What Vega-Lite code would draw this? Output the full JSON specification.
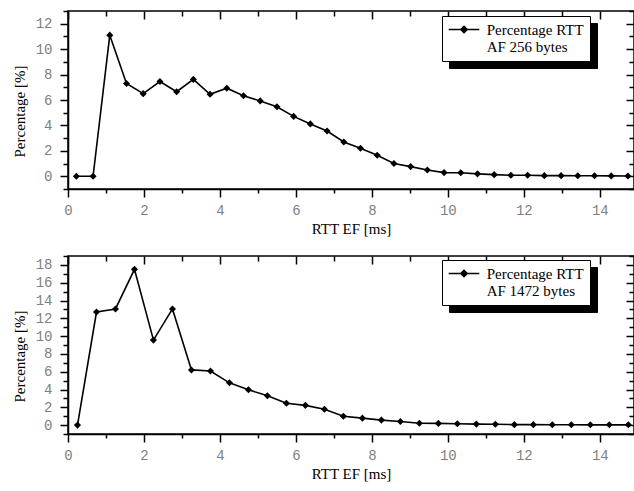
{
  "$schema": "https://vega.github.io/schema/vega-lite/v6.json",
  "padding": {"left": 11, "top": 3, "right": 0, "bottom": 0},
  "spacing": 11,
  "background": "white",
  "resolve": {"scale": {"color": "independent", "shape": "independent"}, "legend": {"color": "independent", "shape": "independent"}},
  "config": {
    "view": {"stroke": "black", "strokeWidth": 1.5},
    "axis": {
      "domainColor": "black", "domainWidth": 1.5, "tickColor": "black", "tickWidth": 1.5,
      "labelFont": "Liberation Mono", "labelFontSize": 14, "labelColor": "#808080",
      "titleFont": "Liberation Serif", "titleFontSize": 15, "titleFontWeight": "normal", "titleColor": "black",
      "grid": false, "labelFlush": false, "labelOverlap": false
    }
  },
  "vconcat": [
    {
      "width": 566, "height": 178,
      "data": {"values": [
        {"x": 0.22, "y": 0}, {"x": 0.66, "y": 0}, {"x": 1.10, "y": 11.1}, {"x": 1.54, "y": 7.3},
        {"x": 1.98, "y": 6.5}, {"x": 2.42, "y": 7.45}, {"x": 2.86, "y": 6.65}, {"x": 3.30, "y": 7.62},
        {"x": 3.74, "y": 6.45}, {"x": 4.18, "y": 6.93}, {"x": 4.62, "y": 6.33}, {"x": 5.06, "y": 5.93},
        {"x": 5.50, "y": 5.47}, {"x": 5.94, "y": 4.71}, {"x": 6.38, "y": 4.12}, {"x": 6.82, "y": 3.56},
        {"x": 7.26, "y": 2.70}, {"x": 7.70, "y": 2.20}, {"x": 8.14, "y": 1.65}, {"x": 8.58, "y": 1.0},
        {"x": 9.02, "y": 0.76}, {"x": 9.46, "y": 0.5}, {"x": 9.90, "y": 0.29}, {"x": 10.34, "y": 0.28},
        {"x": 10.78, "y": 0.19}, {"x": 11.22, "y": 0.13}, {"x": 11.66, "y": 0.08}, {"x": 12.10, "y": 0.08},
        {"x": 12.54, "y": 0.05}, {"x": 12.98, "y": 0.05}, {"x": 13.42, "y": 0.04}, {"x": 13.86, "y": 0.04},
        {"x": 14.30, "y": 0.03}, {"x": 14.74, "y": 0.02}
      ]},
      "layer": [
        {
          "mark": {"type": "line", "strokeWidth": 1.6, "clip": false},
          "encoding": {
            "x": {"field": "x", "type": "quantitative",
              "scale": {"domain": [0, 14.9], "nice": false, "zero": false},
              "axis": {"orient": "bottom", "values": [0,1,2,3,4,5,6,7,8,9,10,11,12,13,14],
                "title": "RTT EF [ms]", "labelExpr": "datum.value % 2 ? '' : datum.label",
                "tickSize": {"condition": {"test": "datum.value % 2 === 0", "value": 8}, "value": 4},
                "labelPadding": 6, "titlePadding": 4}},
            "y": {"field": "y", "type": "quantitative",
              "scale": {"domain": [-1, 13], "nice": false, "zero": false},
              "axis": {"orient": "left", "values": [-1,0,1,2,3,4,5,6,7,8,9,10,11,12,13],
                "title": "Percentage [%]", "labelExpr": "(datum.value % 2 !== 0) ? '' : datum.label",
                "tickSize": {"condition": {"test": "datum.value % 2 === 0", "value": 8}, "value": 5},
                "labelPadding": 8, "titlePadding": 8, "titleY": 100}},
            "color": {"datum": "Percentage RTT", "type": "nominal", "scale": {"range": ["black"]},
              "legend": {"orient": "none", "legendX": 374, "legendY": 5, "title": null,
                "fillColor": "white", "strokeColor": "black", "padding": 6,
                "symbolType": "M-1.05,0L3.66,0M1.31,-0.5L1.81,0L1.31,0.5L0.81,0Z",
                "symbolSize": 169, "symbolStrokeWidth": 1.5, "symbolStrokeColor": "black", "symbolFillColor": "black",
                "labelFont": "Liberation Serif", "labelFontSize": 15, "labelColor": "black",
                "labelLineHeight": 18.5, "labelOffset": 23.7, "labelLimit": 300,
                "labelExpr": "['Percentage RTT   ', 'AF 256 bytes']", "zindex": 2,
                "encode": {"symbols": {"update": {"fill": {"value": "black"}, "stroke": {"value": "black"}}}}}}
          }
        },
        {
          "mark": {"type": "point", "filled": true, "color": "black", "size": 50, "opacity": 1, "clip": false},
          "encoding": {
            "x": {"field": "x", "type": "quantitative",
              "scale": {"domain": [0, 14.9], "nice": false, "zero": false},
              "axis": {"orient": "top", "values": [0,1,2,3,4,5,6,7,8,9,10,11,12,13,14],
                "title": null, "labels": false, "domain": false,
                "tickSize": {"condition": {"test": "datum.value % 2 === 0", "value": -8}, "value": -5}}},
            "y": {"field": "y", "type": "quantitative",
              "scale": {"domain": [-1, 13], "nice": false, "zero": false},
              "axis": {"orient": "right", "values": [-1,0,1,2,3,4,5,6,7,8,9,10,11,12,13],
                "title": null, "labels": false, "domain": false,
                "tickSize": {"condition": {"test": "datum.value % 2 === 0", "value": -8}, "value": -5}}},
            "shape": {"datum": "s", "type": "nominal", "scale": {"range": ["diamond"]},
              "legend": {"orient": "none", "legendX": 381, "legendY": 12, "title": null,
                "fillColor": "black", "strokeColor": "black", "padding": 6,
                "symbolSize": 169, "symbolStrokeWidth": 1.5, "symbolStrokeColor": "black", "symbolFillColor": "black",
                "labelFont": "Liberation Serif", "labelFontSize": 15, "labelColor": "black",
                "labelLineHeight": 18.5, "labelOffset": 23.7, "labelLimit": 300,
                "labelExpr": "['Percentage RTT   ', 'AF 256 bytes']", "zindex": 1}}
          }
        }
      ],
      "resolve": {"axis": {"x": "independent", "y": "independent"}}
    },
    {
      "width": 566, "height": 178,
      "data": {"values": [
        {"x": 0.25, "y": 0}, {"x": 0.75, "y": 12.7}, {"x": 1.25, "y": 13.05}, {"x": 1.75, "y": 17.5},
        {"x": 2.25, "y": 9.55}, {"x": 2.75, "y": 13.05}, {"x": 3.25, "y": 6.2}, {"x": 3.75, "y": 6.08},
        {"x": 4.25, "y": 4.75}, {"x": 4.75, "y": 3.97}, {"x": 5.25, "y": 3.3}, {"x": 5.75, "y": 2.45},
        {"x": 6.25, "y": 2.22}, {"x": 6.75, "y": 1.79}, {"x": 7.25, "y": 1.0}, {"x": 7.75, "y": 0.78},
        {"x": 8.25, "y": 0.56}, {"x": 8.75, "y": 0.41}, {"x": 9.25, "y": 0.2}, {"x": 9.75, "y": 0.19},
        {"x": 10.25, "y": 0.15}, {"x": 10.75, "y": 0.11}, {"x": 11.25, "y": 0.1}, {"x": 11.75, "y": 0.05},
        {"x": 12.25, "y": 0.05}, {"x": 12.75, "y": 0.04}, {"x": 13.25, "y": 0.04}, {"x": 13.75, "y": 0.03},
        {"x": 14.25, "y": 0.03}, {"x": 14.75, "y": 0.03}
      ]},
      "layer": [
        {
          "mark": {"type": "line", "strokeWidth": 1.6, "clip": false},
          "encoding": {
            "x": {"field": "x", "type": "quantitative",
              "scale": {"domain": [0, 14.9], "nice": false, "zero": false},
              "axis": {"orient": "bottom", "values": [0,1,2,3,4,5,6,7,8,9,10,11,12,13,14],
                "title": "RTT EF [ms]", "labelExpr": "datum.value % 2 ? '' : datum.label",
                "tickSize": {"condition": {"test": "datum.value % 2 === 0", "value": 8}, "value": 4},
                "labelPadding": 6, "titlePadding": 4}},
            "y": {"field": "y", "type": "quantitative",
              "scale": {"domain": [-1, 19], "nice": false, "zero": false},
              "axis": {"orient": "left", "values": [-1,0,1,2,3,4,5,6,7,8,9,10,11,12,13,14,15,16,17,18,19],
                "title": "Percentage [%]", "labelExpr": "(datum.value % 2 !== 0) ? '' : datum.label",
                "tickSize": {"condition": {"test": "datum.value % 2 === 0", "value": 8}, "value": 5},
                "labelPadding": 8, "titlePadding": 8, "titleY": 100}},
            "color": {"datum": "Percentage RTT", "type": "nominal", "scale": {"range": ["black"]},
              "legend": {"orient": "none", "legendX": 374, "legendY": 4, "title": null,
                "fillColor": "white", "strokeColor": "black", "padding": 6,
                "symbolType": "M-1.05,0L3.66,0M1.31,-0.5L1.81,0L1.31,0.5L0.81,0Z",
                "symbolSize": 169, "symbolStrokeWidth": 1.5, "symbolStrokeColor": "black", "symbolFillColor": "black",
                "labelFont": "Liberation Serif", "labelFontSize": 15, "labelColor": "black",
                "labelLineHeight": 18.5, "labelOffset": 23.7, "labelLimit": 300,
                "labelExpr": "['Percentage RTT   ', 'AF 1472 bytes']", "zindex": 2,
                "encode": {"symbols": {"update": {"fill": {"value": "black"}, "stroke": {"value": "black"}}}}}}
          }
        },
        {
          "mark": {"type": "point", "filled": true, "color": "black", "size": 50, "opacity": 1, "clip": false},
          "encoding": {
            "x": {"field": "x", "type": "quantitative",
              "scale": {"domain": [0, 14.9], "nice": false, "zero": false},
              "axis": {"orient": "top", "values": [0,1,2,3,4,5,6,7,8,9,10,11,12,13,14],
                "title": null, "labels": false, "domain": false,
                "tickSize": {"condition": {"test": "datum.value % 2 === 0", "value": -8}, "value": -5}}},
            "y": {"field": "y", "type": "quantitative",
              "scale": {"domain": [-1, 19], "nice": false, "zero": false},
              "axis": {"orient": "right", "values": [-1,0,1,2,3,4,5,6,7,8,9,10,11,12,13,14,15,16,17,18,19],
                "title": null, "labels": false, "domain": false,
                "tickSize": {"condition": {"test": "datum.value % 2 === 0", "value": -8}, "value": -5}}},
            "shape": {"datum": "s", "type": "nominal", "scale": {"range": ["diamond"]},
              "legend": {"orient": "none", "legendX": 381, "legendY": 11, "title": null,
                "fillColor": "black", "strokeColor": "black", "padding": 6,
                "symbolSize": 169, "symbolStrokeWidth": 1.5, "symbolStrokeColor": "black", "symbolFillColor": "black",
                "labelFont": "Liberation Serif", "labelFontSize": 15, "labelColor": "black",
                "labelLineHeight": 18.5, "labelOffset": 23.7, "labelLimit": 300,
                "labelExpr": "['Percentage RTT   ', 'AF 1472 bytes']", "zindex": 1}}
          }
        }
      ],
      "resolve": {"axis": {"x": "independent", "y": "independent"}}
    }
  ]
}
